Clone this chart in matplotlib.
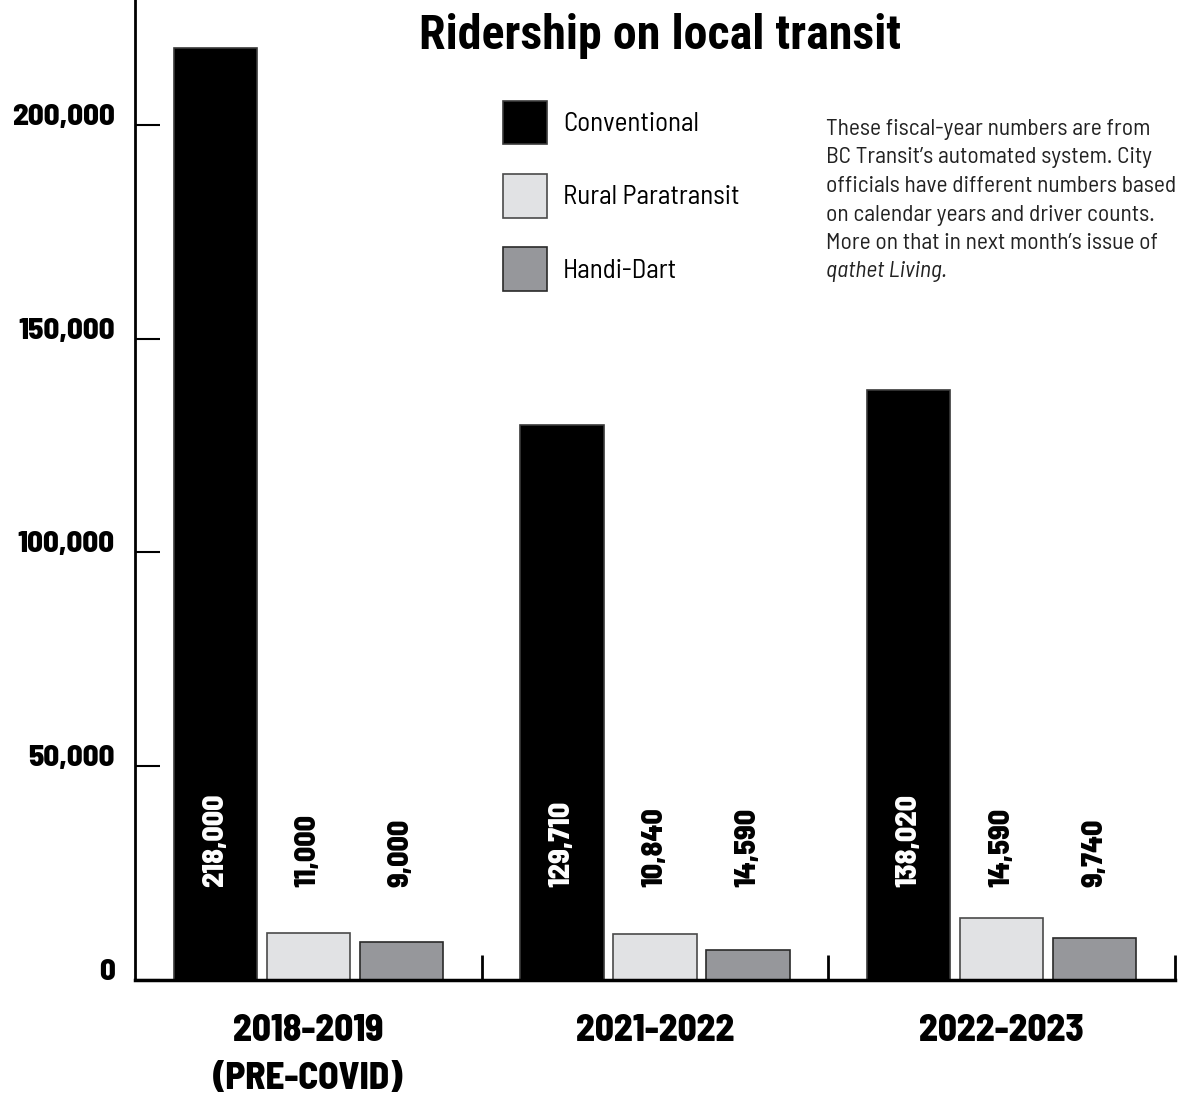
import numpy as np
import matplotlib
matplotlib.use("Agg")
import matplotlib.pyplot as plt

# ---------------------------- dados ----------------------------
periodos = ["2018-2019\n(PRE-COVID)", "2021-2022", "2022-2023"]
series = ["Conventional", "Rural Paratransit", "Handi-Dart"]

conventional = [218000, 129710, 138020]
rural = [11000, 10840, 14590]
handi = [9000, 7000, 9740]   # bar drawn ~7,000 in the original, label says 14,590

rotulos_conv = ["218,000", "129,710", "138,020"]
rotulos_rural = ["11,000", "10,840", "14,590"]
rotulos_handi = ["9,000", "14,590", "9,740"]

yticks = [0, 50000, 100000, 150000, 200000]
ytick_labels = ["0", "50,000", "100,000", "150,000", "200,000"]

nota = ["These fiscal-year numbers are from",
        "BC Transit\u2019s automated system. City",
        "officials have different numbers based",
        "on calendar years and driver counts.",
        "More on that in next month\u2019s issue of"]
nota_italico = "qathet Living."

# ---------------------------- estilo ----------------------------
W, H = 1178, 1095
cores = ["#000000", "#e1e2e4", "#96979b"]
bordas = ["#3a3a3a", "#4a4a4a", "#2a2a2a"]
fonte_num = "Barlow Semi Condensed"


def px(v):  # pixels -> pontos (dpi 100)
    return v * 0.72


fig = plt.figure(figsize=(W / 100, H / 100), dpi=100)
ax = fig.add_axes([135 / W, 1 - 980 / H, (1175 - 135) / W, 980 / H])

x = np.arange(len(periodos)) + 0.5
largura = 0.24
desloc = 0.268

valores = [conventional, rural, handi]
rotulos = [rotulos_conv, rotulos_rural, rotulos_handi]
for i, (vals, labs) in enumerate(zip(valores, rotulos)):
    pos = x + (i - 1) * desloc
    ax.bar(pos, vals, width=largura, color=cores[i], edgecolor=bordas[i],
           linewidth=1.2, label=series[i], zorder=2)
    for p, t in zip(pos, labs):
        ax.text(p, 21700, t, rotation=90, rotation_mode="anchor",
                ha="left", va="center", fontsize=px(30),
                family=fonte_num, weight=800,
                color="white" if i == 0 else "black", zorder=3)

ax.set_xlim(0, 3)
ax.set_ylim(0, 980 * 233.9)

for s in ["top", "right"]:
    ax.spines[s].set_visible(False)
ax.spines["left"].set_linewidth(2)
ax.spines["bottom"].set_linewidth(2.5)

ax.set_yticks(yticks)
ax.set_yticklabels(ytick_labels, family=fonte_num, weight=800,
                   fontsize=px(31), va="baseline")
ax.tick_params(axis="y", direction="in", length=px(25), width=1.5, pad=px(20))

ax.set_xticks([1, 2, 3])
ax.set_xticklabels([])
ax.tick_params(axis="x", which="major", direction="in", length=px(25), width=2)
ax.set_xticks(x, minor=True)
ax.set_xticklabels(periodos, minor=True, family=fonte_num, weight=800,
                   fontsize=px(37), linespacing=1.5)
ax.tick_params(axis="x", which="minor", length=0, pad=px(34))

# título
fig.text(660 / W, 1 - 49 / H, "Ridership on local transit", ha="center",
         va="baseline", family="Roboto Condensed", weight="bold", fontsize=px(48))

# legenda
ax.legend(loc="upper left", bbox_to_anchor=(503 / W, 1 - 101 / H),
          bbox_transform=fig.transFigure, frameon=False, borderpad=0,
          borderaxespad=0, prop={"family": fonte_num, "size": px(27)},
          handlelength=44 / 27, handleheight=2.1, handletextpad=16 / 27,
          labelspacing=1.1)

# nota
for k, linha in enumerate(nota):
    fig.text(826 / W, 1 - (135 + 28.5 * k) / H, linha, ha="left", va="baseline",
             family=fonte_num, fontsize=px(23.5), color="#222222")
fig.text(826 / W, 1 - (135 + 28.5 * len(nota)) / H, nota_italico, ha="left",
         va="baseline", family=fonte_num, style="italic", fontsize=px(23.5),
         color="#222222")

fig.savefig("out.png", dpi=100)
